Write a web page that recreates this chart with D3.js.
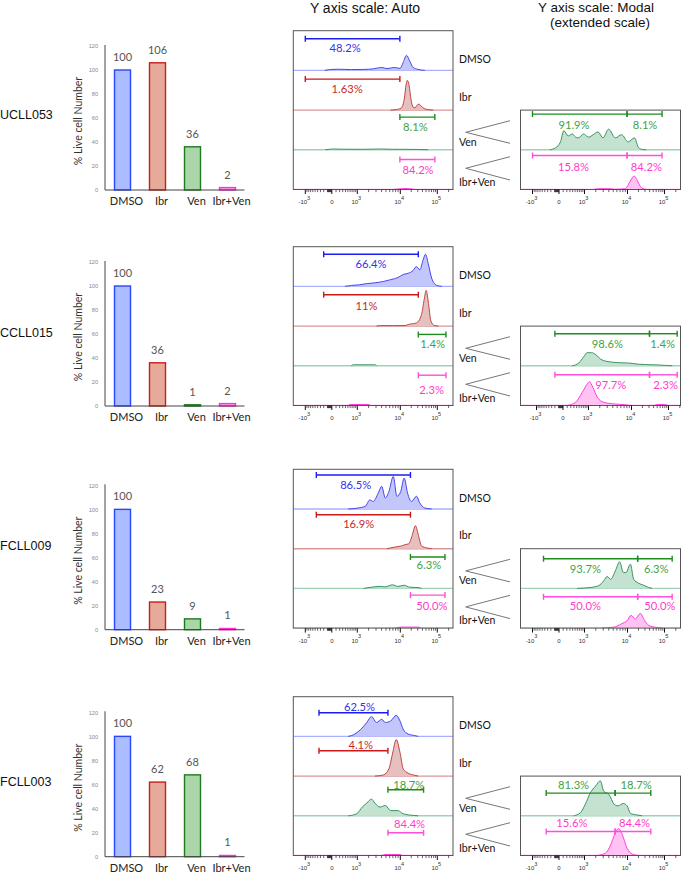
<!DOCTYPE html>
<html><head><meta charset="utf-8">
<script src="https://cdn.jsdelivr.net/npm/d3@7"></script>
<style>body{margin:0;background:#fff}</style>
</head><body>
<svg id="c" width="685" height="875"></svg>
<script>
// ---------------- DATA ----------------
const samples = ["UCLL053","CCLL015","FCLL009","FCLL003"];
const treatments = ["DMSO","Ibr","Ven","Ibr+Ven"];
const liveUCLL053 = [100,106,36,2];
const liveCCLL015 = [100,36,1,2];
const liveFCLL009 = [100,23,9,1];
const liveFCLL003 = [100,62,68,1];
const barTicks = [0,20,40,60,80,100,120];
const axisTicks = [-1000,0,1000,10000,100000];
const axisTickBase = ["-10","0","10","10","10"];
const axisTickExp = ["3","","3","4","5"];

// gates [left, split, right] in fluorescence units
const gateUCLL053 = [-1000, 9800, 86000];
const gateCCLL015 = [-200, 31000, 170000];
const gateFCLL009 = [-450, 19000, 160000];
const gateFCLL003 = [-350, 5500, 43000];

// percentages: auto lanes DMSO, Ibr, Ven, Ibr+Ven ; modal Ven-left, Ven-right, IV-left, IV-right
const pctAutoUCLL053 = ["48.2%","1.63%","8.1%","84.2%"];
const pctModalUCLL053 = ["91.9%","8.1%","15.8%","84.2%"];
const pctAutoCCLL015 = ["66.4%","11%","1.4%","2.3%"];
const pctModalCCLL015 = ["98.6%","1.4%","97.7%","2.3%"];
const pctAutoFCLL009 = ["86.5%","16.9%","6.3%","50.0%"];
const pctModalFCLL009 = ["93.7%","6.3%","50.0%","50.0%"];
const pctAutoFCLL003 = ["62.5%","4.1%","18.7%","84.4%"];
const pctModalFCLL003 = ["81.3%","18.7%","15.6%","84.4%"];

// histograms: [fluorescence, relative count (% of lane height)]
const uc053AutoDMSO = [[-170,0],[0,2.5],[162,3],[659,2],[1511,2.5],[2580,3.8],[4027,7.5],[5260,4.5],[7530,7.5],[9840,5],[12050,20],[14800,38],[18280,23],[22450,7.5],[30640,2.5],[46520,0]];
const uc053AutoIbr = [[6300,0],[8200,1.2],[10500,5],[13000,30],[14500,65],[15600,75],[17500,62],[19800,25],[22450,7.5],[25400,6],[28800,12.5],[32600,15],[37000,10],[44600,4],[57150,1.2],[78050,0]];
const uc053AutoVen = [[-155,0],[33,2],[320,1.5],[1379,1.2],[4027,2],[6870,1.2],[12050,1.2],[30640,0.8],[57150,0]];
const uc053AutoIV = [[6870,0],[10900,2],[14500,2.5],[19800,1.5],[25400,0]];
const uc053ModalVen = [[-232,0],[-78,5],[33,20],[115,48],[243,35],[384,40],[518,32],[644,30],[955,40],[1090,36],[1327,32],[1709,38],[2270,45],[2966,30],[3963,52],[5545,30],[7530,38],[10440,20],[15600,30],[20200,5],[25400,1],[32600,0]];
const uc053ModalIV = [[1803,0],[2355,2],[4027,2],[5545,0.5],[9000,2],[10500,12],[13000,27],[15200,34],[18000,25],[22450,8],[27000,2],[32600,0]];

const cc015AutoDMSO = [[384,0],[672,2.5],[1156,4],[1803,7],[2826,9],[4406,12.5],[6310,17],[8985,22.5],[12050,30],[16450,33],[22450,40],[27500,50],[34050,42],[41860,67],[48500,81],[57150,58],[70620,21],[96380,2.5],[131500,0]];
const cc015AutoIbr = [[3078,0],[3600,1.2],[6870,1.2],[13390,1.2],[16450,4],[27500,8],[37840,29],[44600,67],[50440,90],[57150,63],[67600,12.5],[83000,1.8],[106400,0]];
const cc015AutoVen = [[659,0],[763,2.5],[2826,2.5],[3078,0]];
const cc015AutoIV = [[518,0],[600,2.5],[1974,2.5],[2230,0]];
const cc015ModalVen = [[243,0],[488,7],[725,23],[919,33],[1219,33],[1592,28],[2083,17],[2966,11],[5066,8],[8650,7],[15850,4],[36200,2.5],[54700,2],[83000,1],[126000,0]];
const cc015ModalIV = [[100,0],[357,8],[644,33],[919,54],[1055,60],[1327,46],[1736,21],[2485,8],[4250,4],[7244,2],[10440,0],[39400,0],[50440,2.5],[78050,2.5],[100000,0]];

const fc009AutoDMSO = [[518,0],[1055,2.5],[1654,7],[2161,23],[2580,19],[3370,40],[4027,57],[4826,28],[5760,44],[7150,82],[8500,32],[10270,44],[12800,78],[15850,40],[20320,19],[27730,32],[34050,15],[46520,2.5],[70620,0]];
const fc009AutoIbr = [[5260,0],[7530,4],[10910,7],[13390,10],[17200,12.5],[21100,33],[26000,58],[30640,37],[37840,7],[52500,2],[70620,0]];
const fc009AutoVen = [[1511,0],[2161,2.5],[3693,5],[4826,4],[6870,9],[8985,5],[12800,8],[18280,3],[30640,2],[37840,0]];
const fc009AutoIV = [[8000,0],[10500,2.5],[30640,2.5],[37000,0]];
const fc009ModalVen = [[596,0],[1511,2.5],[2355,7],[3078,19],[3680,30],[4406,23],[5545,44],[6870,67],[8200,40],[9300,40],[12050,61],[14800,23],[20200,13],[27500,8],[37600,2.5],[46520,0]];
const fc009ModalIV = [[2820,0],[5260,2.5],[7530,11],[9840,19],[12600,32],[16450,23],[22450,37],[29400,19],[37600,7],[57150,2],[86740,0]];

const fc003AutoDMSO = [[518,0],[858,6],[1265,18],[1803,35],[2355,50],[3078,35],[4027,43],[4826,35],[6310,39],[8240,53],[9840,39],[12050,18],[16450,6],[24950,2],[30640,0]];
const fc003AutoIbr = [[2826,0],[4406,3],[5760,18],[6870,56],[8240,92],[9840,60],[12050,18],[16450,7.5],[24950,2],[30640,0]];
const fc003AutoVen = [[518,0],[960,5],[1379,22],[1803,32],[2355,42],[2826,32],[3693,22],[4826,26],[6310,13],[8985,13],[12050,5],[22450,1],[30640,0]];
const fc003AutoIV = [[4027,0],[5000,2.5],[9500,2.5],[11500,0]];
const fc003ModalVen = [[446,0],[763,8],[1055,29],[1455,58],[1974,75],[2580,88],[3078,62],[4027,54],[5260,29],[6280,25],[8200,31],[9840,25],[12050,6],[18280,2],[24950,0]];
const fc003ModalIV = [[2150,0],[3370,6],[4406,27],[5400,54],[6500,68],[7800,52],[9840,18],[13390,4],[20200,0]];

// ---------------- assembled tables ----------------
const liveTable = [liveUCLL053, liveCCLL015, liveFCLL009, liveFCLL003];
const gateTable = [gateUCLL053, gateCCLL015, gateFCLL009, gateFCLL003];
const pctAutoTable = [pctAutoUCLL053, pctAutoCCLL015, pctAutoFCLL009, pctAutoFCLL003];
const pctModalTable = [pctModalUCLL053, pctModalCCLL015, pctModalFCLL009, pctModalFCLL003];
const autoHistTable = [
  [uc053AutoDMSO, uc053AutoIbr, uc053AutoVen, uc053AutoIV],
  [cc015AutoDMSO, cc015AutoIbr, cc015AutoVen, cc015AutoIV],
  [fc009AutoDMSO, fc009AutoIbr, fc009AutoVen, fc009AutoIV],
  [fc003AutoDMSO, fc003AutoIbr, fc003AutoVen, fc003AutoIV]];
const modalHistTable = [
  [uc053ModalVen, uc053ModalIV],[cc015ModalVen, cc015ModalIV],
  [fc009ModalVen, fc009ModalIV],[fc003ModalVen, fc003ModalIV]];

// ---------------- LAYOUT & STYLE ----------------
const L = {
  barTop:[46,262,485.3,712.3], bar0:[190,406,629.7,856.7], rowLabelY:[115,333,546,782],
  autoTop:[30.7,246.7,469.3,696.7],
  autoX:293.3, autoW:159.7, laneH:39.7, modalX:520.5, modalW:160,
  tickOffsets:[12,38.5,64,107,144],
  modalShift:[0,4,0,0],
  autoGateDy:[[8,8.7,7,9.7],[7.6,8.3,8.3,9.4],[5.7,5.7,8.3,6.7],[16,14.4,13.7,17]],
  autoLabelDy:[[17,17.6,16.7,19.7],[16.6,19,17,23.4],[15,14.7,15.3,16.7],[9.3,8,8,7.3]],
  autoLabelDx:[[-7.5,-5.5,-2,0.7],[0,-4.5,0.5,-0.5],[-7.7,-4.7,1.2,4.2],[6,7.3,3,3.8]],
  modalGateDy:[[4,5.7],[7.6,9],[10,8.4],[17,15.7]],
  modalLabelDy:[[14,16.7],[17,19],[20,17.4],[8.6,7]],
  modalLabelDx:[[-5.8,0.5,-6.3,1.8],[5.2,-0.7,8.5,2.3],[-5.2,1.3,-5.2,5],[-7.1,3.2,-8.8,1.5]],
  laneLabelDy:[28.6,66,111,151]
};
const ST = [
  {stroke:"#4646ee", fill:"#c3c6fa", base:"#a9b0ff", gate:"#1c1cf0", text:"#3434e6", barFill:"#abbcff", barStroke:"#2b46ff"},
  {stroke:"#c04444", fill:"#e6bfbf", base:"#d89898", gate:"#c81818", text:"#c62a2a", barFill:"#e8aa98", barStroke:"#c41e1e"},
  {stroke:"#3a9462", fill:"#c3e2cf", base:"#9fd2b5", gate:"#1e8c1e", text:"#3fa33f", barFill:"#aad6aa", barStroke:"#1e7a1e"},
  {stroke:"#ff3fdc", fill:"#ffc2f2", base:"#ff9cec", gate:"#ff4fd8", text:"#ff3ccc", barFill:"#ffaaf0", barStroke:"#ff2fd0"}
];
const CAL = "Lato, 'Open Sans', sans-serif";
const ARIAL = "'Liberation Sans', Arial, sans-serif";

const svg = d3.select("#c");
svg.append("rect").attr("width",685).attr("height",875).attr("fill","#fff");

// titles
svg.append("text").attr("x",365).attr("y",12.5).attr("text-anchor","middle")
  .attr("font-family",ARIAL).attr("font-size",14).attr("fill","#111").text("Y axis scale: Auto");
svg.append("text").attr("x",596).attr("y",12).attr("text-anchor","middle")
  .attr("font-family",ARIAL).attr("font-size",13.5).attr("fill","#111").text("Y axis scale: Modal");
svg.append("text").attr("x",600).attr("y",27).attr("text-anchor","middle")
  .attr("font-family",ARIAL).attr("font-size",13.5).attr("fill","#111").text("(extended scale)");

const minorTicks = [];
for (let k=1;k<10;k++){ minorTicks.push(-k*10, -k*100, k*100); if(k>1){minorTicks.push(k*1000,k*10000,k*100000);} }

let clipId = 0;
function xScale(x0, shift){
  return d3.scaleSymlog().constant(500).domain(axisTicks).range(L.tickOffsets.map(o=>x0+o+shift));
}
function drawAxis(g, xs, x0, w, y){
  const inBox = v => xs(v) >= x0+0.5 && xs(v) <= x0+w-0.5;
  g.selectAll(null).data(minorTicks.filter(inBox)).enter().append("line")
    .attr("x1",d=>xs(d)).attr("x2",d=>xs(d)).attr("y1",y).attr("y2",y+2.6)
    .attr("stroke","#222").attr("stroke-width",0.7);
  g.selectAll(null).data(axisTicks).enter().append("line")
    .attr("x1",d=>xs(d)).attr("x2",d=>xs(d)).attr("y1",y).attr("y2",y+4.5)
    .attr("stroke","#111").attr("stroke-width",1);
  const t = g.selectAll(null).data(axisTicks).enter().append("text")
    .attr("x",d=>xs(d)+ (axisTickExp[axisTicks.indexOf(d)]?-1:0)).attr("y",y+14.5)
    .attr("text-anchor","middle").attr("font-family",ARIAL).attr("font-size",6).attr("fill","#333");
  t.append("tspan").text((d,i)=>axisTickBase[i]);
  t.append("tspan").attr("dy",-4.5).attr("font-size",5.5).text((d,i)=>axisTickExp[i]);
}
function drawHist(g, data, xs, base, st){
  const ys = d3.scaleLinear().domain([0,100]).range([base, base-L.laneH]);
  g.append("path").datum(data)
    .attr("d", d3.area().x(d=>xs(d[0])).y0(base).y1(d=>ys(d[1])).curve(d3.curveMonotoneX))
    .attr("fill", st.fill);
  g.append("path").datum(data)
    .attr("d", d3.line().x(d=>xs(d[0])).y(d=>ys(d[1])).curve(d3.curveMonotoneX))
    .attr("fill","none").attr("stroke",st.stroke).attr("stroke-width",1);
}
function drawBaseline(g, x0, w, y, st){
  g.append("line").attr("x1",x0).attr("x2",x0+w).attr("y1",y).attr("y2",y)
    .attr("stroke",st.base).attr("stroke-width",1.4);
}
function drawGate(g, xs, a, b, y, color){
  g.append("line").attr("x1",xs(a)).attr("x2",xs(b)).attr("y1",y).attr("y2",y)
    .attr("stroke",color).attr("stroke-width",1.4);
  [a,b].forEach(v=>g.append("line").attr("x1",xs(v)).attr("x2",xs(v)).attr("y1",y-3).attr("y2",y+3)
    .attr("stroke",color).attr("stroke-width",1.4));
}
function pctLabel(g, x, y, txt, color){
  g.append("text").attr("x",x).attr("y",y).attr("text-anchor","middle").attr("dominant-baseline","central")
    .attr("font-family",CAL).attr("font-size",11.2).attr("fill",color).text(txt);
}
function clipFor(x0,y0,w,h){
  const id = "clip"+(clipId++);
  svg.append("clipPath").attr("id",id).append("rect").attr("x",x0).attr("y",y0).attr("width",w).attr("height",h);
  return "url(#"+id+")";
}

samples.forEach((name, r) => {
  // ---------- bar chart ----------
  const g = svg.append("g");
  const xb = d3.scaleBand().domain(treatments).range([105,245]).paddingInner(0.5).paddingOuter(0.25);
  const yb = d3.scaleLinear().domain([0,120]).range([L.bar0[r], L.barTop[r]]);
  const ax = g.append("g").attr("transform","translate(105,0)")
    .call(d3.axisLeft(yb).tickValues(barTicks).tickSize(0).tickPadding(7));
  ax.select(".domain").remove();
  ax.selectAll("text").attr("font-family",ARIAL).attr("font-size",5.6).attr("fill","#888");
  g.append("line").attr("x1",105).attr("x2",105).attr("y1",yb(120)-1).attr("y2",yb(0)).attr("stroke","#444").attr("stroke-width",1);
  const vals = liveTable[r];
  g.selectAll(null).data(treatments).enter().append("rect")
    .attr("x",d=>xb(d)+0.75).attr("width",xb.bandwidth()-1.5)
    .attr("y",(d,i)=>yb(vals[i])).attr("height",(d,i)=>Math.max(0.1, yb(0)-yb(vals[i])))
    .attr("fill",(d,i)=>ST[i].barFill).attr("stroke",(d,i)=>ST[i].barStroke).attr("stroke-width",1.4);
  g.append("line").attr("x1",105).attr("x2",244.5).attr("y1",yb(0)).attr("y2",yb(0)).attr("stroke","#444").attr("stroke-width",1);
  g.selectAll(null).data(treatments).enter().append("text")
    .attr("x",d=>xb(d)+xb.bandwidth()/2).attr("y",(d,i)=>yb(vals[i])-9)
    .attr("text-anchor","middle").attr("font-family",CAL).attr("font-size",11).attr("fill","#555")
    .text((d,i)=>vals[i]);
  g.selectAll(null).data(treatments).enter().append("text")
    .attr("x",d=>xb(d)+xb.bandwidth()/2+4).attr("y",yb(0)+15)
    .attr("text-anchor","middle").attr("font-family",CAL).attr("font-size",11).attr("fill","#222")
    .text(d=>d);
  g.append("text").attr("transform",`translate(82,${L.bar0[r]-69}) rotate(-90)`).attr("text-anchor","middle")
    .attr("font-family",CAL).attr("font-size",10.5).attr("fill","#333").text("% Live cell Number");
  g.append("text").attr("x",0).attr("y",L.rowLabelY[r]).attr("dominant-baseline","central")
    .attr("font-family",ARIAL).attr("font-size",12.5).attr("fill","#111").text(name);

  // ---------- auto panel ----------
  const top = L.autoTop[r], x0 = L.autoX, w = L.autoW, H = L.laneH*4;
  const xs = xScale(x0, 0);
  const gates = gateTable[r];
  const pg = svg.append("g");
  const hg = pg.append("g").attr("clip-path", clipFor(x0,top,w,H));
  autoHistTable[r].forEach((data,i)=>{
    const base = top + L.laneH*(i+1);
    drawBaseline(hg, x0, w, base, ST[i]);
    drawHist(hg, data, xs, base, ST[i]);
  });
  autoHistTable[r].forEach((data,i)=>{
    const laneTop = top + L.laneH*i;
    const a = i<2 ? gates[0] : gates[1], b = i<2 ? gates[1] : gates[2];
    drawGate(pg, xs, a, b, laneTop + L.autoGateDy[r][i], ST[i].gate);
    pctLabel(pg, (xs(a)+xs(b))/2 + L.autoLabelDx[r][i], laneTop + L.autoLabelDy[r][i], pctAutoTable[r][i], ST[i].text);
  });
  pg.append("rect").attr("x",x0).attr("y",top).attr("width",w).attr("height",H)
    .attr("fill","none").attr("stroke","#555").attr("stroke-width",1);
  drawAxis(pg, xs, x0, w, top+H);
  // lane labels
  treatments.forEach((t,i)=>{
    pg.append("text").attr("x",459).attr("y",top+L.laneLabelDy[i]).attr("dominant-baseline","central")
      .attr("font-family",CAL).attr("font-size",10.5).attr("fill","#111").text(t);
  });
  // connectors
  const conn = [[90,101.6,112.6],[126,137.6,149.3]];
  conn.forEach(c=>{
    pg.append("polyline").attr("points",`510,${top+c[0]} 465.7,${top+c[1]} 510,${top+c[2]}`)
      .attr("fill","none").attr("stroke","#777").attr("stroke-width",1);
  });

  // ---------- modal panel ----------
  const mx0 = L.modalX, mw = L.modalW, mtop = top + L.laneH*2, mH = L.laneH*2;
  const mxs = xScale(mx0, L.modalShift[r]);
  const mg = svg.append("g");
  const mhg = mg.append("g").attr("clip-path", clipFor(mx0,mtop,mw,mH));
  modalHistTable[r].forEach((data,j)=>{
    const base = mtop + L.laneH*(j+1);
    drawBaseline(mhg, mx0, mw, base, ST[j+2]);
    drawHist(mhg, data, mxs, base, ST[j+2]);
  });
  [0,1].forEach(j=>{
    const laneTop = mtop + L.laneH*j;
    const st = ST[j+2];
    const gy = laneTop + L.modalGateDy[r][j];
    drawGate(mg, mxs, gates[0], gates[1], gy, st.gate);
    drawGate(mg, mxs, gates[1], gates[2], gy, st.gate);
    const ly = laneTop + L.modalLabelDy[r][j];
    pctLabel(mg, (mxs(gates[0])+mxs(gates[1]))/2 + L.modalLabelDx[r][j*2], ly, pctModalTable[r][j*2], st.text);
    pctLabel(mg, (mxs(gates[1])+mxs(gates[2]))/2 + L.modalLabelDx[r][j*2+1], ly, pctModalTable[r][j*2+1], st.text);
  });
  mg.append("rect").attr("x",mx0).attr("y",mtop).attr("width",mw).attr("height",mH)
    .attr("fill","none").attr("stroke","#555").attr("stroke-width",1);
  drawAxis(mg, mxs, mx0, mw, mtop+mH);
});
</script>
</body></html>
